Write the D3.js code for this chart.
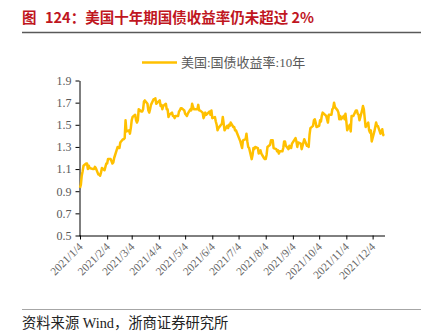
<!DOCTYPE html>
<html><head><meta charset="utf-8">
<script src="https://cdn.jsdelivr.net/npm/d3@7"></script>
<style>
html,body{margin:0;padding:0;background:#fff;}
svg{display:block;}
</style></head>
<body>
<script>
const titleText = "图";
const titleRest = "124：美国十年期国债收益率仍未超过 2%";
const seriesName = "美国:国债收益率:10年";
const sourceText = "资料来源 Wind，浙商证券研究所";
const yTicks = [0.5, 0.7, 0.9, 1.1, 1.3, 1.5, 1.7, 1.9];
const xTickDates = ["2021-01-04","2021-02-04","2021-03-04","2021-04-04","2021-05-04","2021-06-04","2021-07-04","2021-08-04","2021-09-04","2021-10-04","2021-11-04","2021-12-04"];
const xTickLabels = ["2021/1/4","2021/2/4","2021/3/4","2021/4/4","2021/5/4","2021/6/4","2021/7/4","2021/8/4","2021/9/4","2021/10/4","2021/11/4","2021/12/4"];

const dates = [
"01-04","01-05","01-06","01-07","01-08","01-11","01-12","01-13","01-14","01-15","01-19","01-20","01-21","01-22","01-25","01-26","01-27","01-28","01-29",
"02-01","02-02","02-03","02-04","02-05","02-08","02-09","02-10","02-11","02-12","02-16","02-17","02-18","02-19","02-22","02-23","02-24","02-25","02-26",
"03-01","03-02","03-03","03-04","03-05","03-08","03-09","03-10","03-11","03-12","03-15","03-16","03-17","03-18","03-19","03-22","03-23","03-24","03-25","03-26","03-29","03-30","03-31",
"04-01","04-05","04-06","04-07","04-08","04-09","04-12","04-13","04-14","04-15","04-16","04-19","04-20","04-21","04-22","04-23","04-26","04-27","04-28","04-29","04-30",
"05-03","05-04","05-05","05-06","05-07","05-10","05-11","05-12","05-13","05-14","05-17","05-18","05-19","05-20","05-21","05-24","05-25","05-26","05-27","05-28",
"06-01","06-02","06-03","06-04","06-07","06-08","06-09","06-10","06-11","06-14","06-15","06-16","06-17","06-18","06-21","06-22","06-23","06-24","06-25","06-28","06-29","06-30",
"07-01","07-02","07-06","07-07","07-08","07-09","07-12","07-13","07-14","07-15","07-16","07-19","07-20","07-21","07-22","07-23","07-26","07-27","07-28","07-29","07-30",
"08-02","08-03","08-04","08-05","08-06","08-09","08-10","08-11","08-12","08-13","08-16","08-17","08-18","08-19","08-20","08-23","08-24","08-25","08-26","08-27","08-30","08-31",
"09-01","09-02","09-03","09-07","09-08","09-09","09-10","09-13","09-14","09-15","09-16","09-17","09-20","09-21","09-22","09-23","09-24","09-27","09-28","09-29","09-30",
"10-01","10-04","10-05","10-06","10-07","10-08","10-12","10-13","10-14","10-15","10-18","10-19","10-20","10-21","10-22","10-25","10-26","10-27","10-28","10-29",
"11-01","11-02","11-03","11-04","11-05","11-08","11-09","11-10","11-12","11-15","11-16","11-17","11-18","11-19","11-22","11-23","11-24","11-26","11-29","11-30",
"12-01","12-02","12-03","12-06","12-07","12-08","12-09","12-10","12-13","12-14","12-15","12-16","12-17"
];
const values = [
0.93,0.96,1.04,1.08,1.13,1.15,1.15,1.10,1.13,1.11,1.10,1.10,1.12,1.11,1.05,1.05,1.04,1.07,1.11,
1.09,1.12,1.15,1.15,1.19,1.19,1.17,1.15,1.16,1.20,1.30,1.29,1.29,1.34,1.37,1.37,1.38,1.54,1.44,
1.45,1.42,1.47,1.54,1.57,1.59,1.54,1.52,1.54,1.64,1.62,1.62,1.64,1.71,1.72,1.69,1.63,1.61,1.64,1.68,1.73,1.73,1.74,
1.69,1.72,1.67,1.68,1.64,1.67,1.69,1.64,1.64,1.57,1.59,1.61,1.58,1.58,1.56,1.58,1.58,1.62,1.63,1.65,1.65,
1.63,1.60,1.59,1.58,1.60,1.64,1.63,1.69,1.66,1.64,1.64,1.64,1.68,1.63,1.63,1.61,1.56,1.58,1.61,1.59,
1.62,1.59,1.63,1.56,1.57,1.53,1.50,1.45,1.47,1.50,1.51,1.57,1.51,1.45,1.49,1.47,1.50,1.49,1.52,1.48,1.48,1.45,
1.45,1.43,1.35,1.32,1.29,1.36,1.37,1.42,1.35,1.30,1.29,1.19,1.23,1.29,1.28,1.30,1.29,1.24,1.26,1.27,1.24,
1.20,1.19,1.19,1.23,1.30,1.32,1.36,1.36,1.36,1.29,1.28,1.26,1.27,1.24,1.26,1.26,1.29,1.35,1.35,1.31,1.28,1.31,
1.30,1.29,1.33,1.38,1.35,1.30,1.34,1.33,1.28,1.31,1.34,1.37,1.31,1.32,1.30,1.41,1.47,1.49,1.54,1.55,1.52,
1.48,1.49,1.54,1.53,1.58,1.61,1.58,1.55,1.52,1.59,1.59,1.64,1.65,1.70,1.66,1.63,1.61,1.55,1.58,1.55,
1.58,1.55,1.60,1.53,1.45,1.50,1.44,1.58,1.58,1.63,1.63,1.60,1.59,1.54,1.63,1.67,1.64,1.48,1.52,1.45,
1.43,1.45,1.35,1.44,1.48,1.52,1.49,1.49,1.42,1.44,1.46,1.41,1.40
];

const W = 423, H = 332;
const parse = d3.timeParse("%Y-%m-%d");
const data = dates.map((d, i) => ({date: parse("2021-" + d), value: values[i]}));

const svg = d3.select("body").append("svg").attr("width", W).attr("height", H);

const serif = "'Liberation Serif','Times New Roman','Noto Sans CJK SC',serif";
const cjk = "'Noto Sans CJK SC','Noto Sans',sans-serif";

// title
svg.append("text").attr("x", 22).attr("y", 23).attr("fill", "#c0161e")
  .attr("font-family", cjk).attr("font-weight", "bold").attr("font-size", 14.5).text(titleText);
svg.append("text").attr("x", 45).attr("y", 23).attr("fill", "#c0161e")
  .attr("font-family", cjk).attr("font-weight", "bold").attr("font-size", 14.5).text(titleRest);
svg.append("line").attr("x1", 22).attr("x2", 421).attr("y1", 32.5).attr("y2", 32.5)
  .attr("stroke", "#595959").attr("stroke-width", 1.3);

// scales
const x = d3.scaleTime().domain([parse("2021-01-04"), parse("2021-12-17")]).range([80, 384]);
const y = d3.scaleLinear().domain([0.5, 1.9]).range([235.5, 80.5]);

// y axis
const yAxis = svg.append("g").attr("transform", "translate(79.5,0)")
  .call(d3.axisLeft(y).tickValues(yTicks).tickFormat(d3.format(".1f")).tickSize(4).tickSizeOuter(0));
yAxis.select(".domain").attr("stroke", "#000");
yAxis.selectAll(".tick line").attr("stroke", "#000");
yAxis.selectAll(".tick text").attr("fill", "#595959").attr("font-family", serif).attr("font-size", 12).attr("x", -8);

// x axis
const xAxis = svg.append("g").attr("transform", "translate(0,235.5)")
  .call(d3.axisBottom(x).tickValues(xTickDates.map(parse)).tickFormat((d, i) => xTickLabels[i]).tickSize(4).tickSizeOuter(0));
xAxis.select(".domain").attr("stroke", "#000").attr("d", "M79,0.5H385");
xAxis.selectAll(".tick line").attr("stroke", "#000");
xAxis.selectAll(".tick text").attr("fill", "#666").attr("font-family", serif).attr("font-size", 11.3)
  .attr("text-anchor", "end").attr("dy", null).attr("y", 0)
  .attr("transform", "translate(3,12) rotate(-45)");

// line
const line = d3.line().x(d => x(d.date)).y(d => y(d.value));
svg.append("path").datum(data).attr("d", line).attr("fill", "none")
  .attr("stroke", "#ffc000").attr("stroke-width", 2.5).attr("stroke-linejoin", "round");

// legend
svg.append("line").attr("x1", 142).attr("x2", 177).attr("y1", 62.5).attr("y2", 62.5)
  .attr("stroke", "#ffc000").attr("stroke-width", 2.5);
svg.append("text").attr("x", 181).attr("y", 67).attr("fill", "#595959")
  .attr("font-family", serif).attr("font-size", 13).text(seriesName);

// bottom
svg.append("line").attr("x1", 22).attr("x2", 421).attr("y1", 309.5).attr("y2", 309.5)
  .attr("stroke", "#a6a6a6").attr("stroke-width", 1);
svg.append("text").attr("x", 22).attr("y", 328).attr("fill", "#222")
  .attr("font-family", serif).attr("font-size", 14.3).text(sourceText);
</script>
</body></html>
